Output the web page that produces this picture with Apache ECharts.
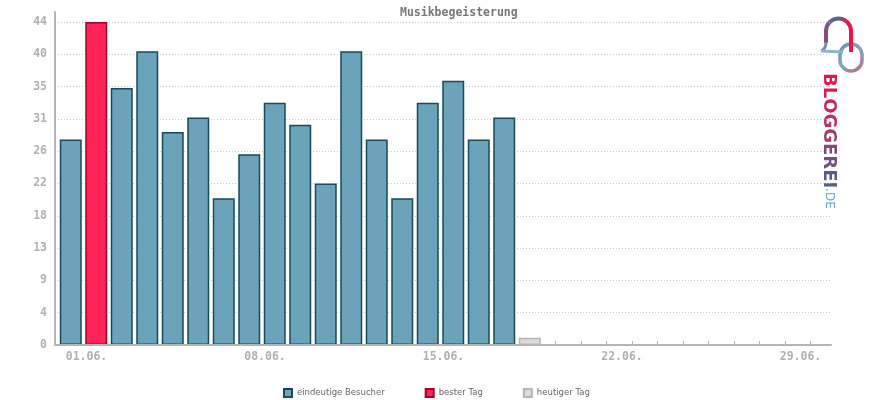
<!DOCTYPE html>
<html>
<head>
<meta charset="utf-8">
<script src="https://cdn.jsdelivr.net/npm/echarts@6/dist/echarts.min.js"></script>
<style>html,body{margin:0;padding:0;background:#fff}#c{width:870px;height:400px}</style>
</head>
<body>
<div id="c"></div>
<script>
const titleText = 'Musikbegeisterung';
const days = ['01.06.','02.06.','03.06.','04.06.','05.06.','06.06.','07.06.','08.06.','09.06.','10.06.',
              '11.06.','12.06.','13.06.','14.06.','15.06.','16.06.','17.06.','18.06.','19.06.','20.06.',
              '21.06.','22.06.','23.06.','24.06.','25.06.','26.06.','27.06.','28.06.','29.06.','30.06.'];
const visitors = [28,44,35,40,29,31,20,26,33,30,22,40,28,20,33,36,28,31]; // 01.06. - 18.06.
const todayValue = 1; // 19.06.
const yTickLabels = ['0','4','9','13','18','22','26','31','35','40','44'];
const legendNames = ['eindeutige Besucher','bester Tag','heutiger Tag'];

const bestIdx = visitors.indexOf(Math.max(...visitors));
const todayIdx = visitors.length;
const blueData = days.map((d,i) => (i < visitors.length && i !== bestIdx) ? visitors[i] : null);
const redData = days.map((d,i) => i === bestIdx ? visitors[i] : null);
const greyData = days.map((d,i) => i === todayIdx ? todayValue : null);

const yMax = 44, yStep = 4.4;
const mono = '"DejaVu Sans Mono", "Liberation Mono", monospace';
const grey = '#b4b4b4';

// logo letters
const logoWord = 'BLOGGEREI'.split('');
const logoColors = ['#e3184f','#d81d55','#c7285c','#b23466','#9a3f70','#844878','#70517f','#605884','#536088'];
const rich = {};
let richText = '';
logoWord.forEach((ch,i) => {
  rich['l'+i] = {fill: logoColors[i], fontSize: 18, fontWeight: 'bold', fontFamily: '"DejaVu Sans", sans-serif'};
  richText += '{l'+i+'|'+ch+'}';
});
rich.de = {fill: '#6aa0c0', fontSize: 12, fontWeight: 'normal', fontFamily: '"DejaVu Sans", sans-serif'};
richText += '{de|.DE}';

const chart = echarts.init(document.getElementById('c'), null, {renderer: 'canvas'});
chart.setOption({
  animation: false,
  backgroundColor: '#fff',
  title: {
    text: titleText, left: 395, top: 2,
    textStyle: {fontFamily: mono, fontSize: 11.5, fontWeight: 'bold', color: '#777'}
  },
  legend: {
    data: legendNames, left: 278, top: 383, itemWidth: 8, itemHeight: 8, itemGap: 40,
    icon: 'rect',
    textStyle: {fontFamily: '"DejaVu Sans", sans-serif', fontSize: 8.5, color: '#666'}
  },
  grid: [
    {left: 58, right: 47, top: 22, bottom: 55},
    {left: 55, right: 39, top: 22, bottom: 55},
    {left: 55, right: 39, top: 12, bottom: 55}
  ],
  xAxis: [
    {type: 'category', gridIndex: 0, data: days, boundaryGap: true,
     axisLine: {show: false},
     axisTick: {show: true, inside: true, length: 4, interval: 0, alignWithLabel: true, lineStyle: {color: grey, width: 1}},
     axisLabel: {interval: 6, margin: 6, align: 'left', padding: [0,0,0,-5], fontFamily: mono, fontSize: 11.5, fontWeight: 'bold', color: '#b0b0b0'},
     splitLine: {show: false}},
    {type: 'value', gridIndex: 1, min: 0, max: 1, z: 5,
     axisLine: {show: true, lineStyle: {color: grey, width: 2}},
     axisTick: {show: false}, axisLabel: {show: false}, splitLine: {show: false}},
    {type: 'value', gridIndex: 2, min: 0, max: 1, show: false}
  ],
  yAxis: [
    {type: 'value', gridIndex: 0, min: 0, max: yMax, interval: yStep, show: false},
    {type: 'value', gridIndex: 1, min: 0, max: yMax, interval: yStep,
     axisLine: {show: false}, axisTick: {show: false},
     axisLabel: {margin: 8, fontFamily: mono, fontSize: 11.5, fontWeight: 'bold', color: '#b0b0b0',
                 formatter: v => yTickLabels[Math.round(v / yStep)]},
     splitLine: {show: true, lineStyle: {color: '#c8c8c8', width: 1, type: [1, 2]}}},
    {type: 'value', gridIndex: 2, min: 0, max: 1, z: 5,
     axisLine: {show: true, lineStyle: {color: grey, width: 2}},
     axisTick: {show: false}, axisLabel: {show: false}, splitLine: {show: false}}
  ],
  series: [
    {name: legendNames[0], type: 'bar', xAxisIndex: 0, yAxisIndex: 0, data: blueData,
     barWidth: 22, barGap: '-100%',
     itemStyle: {color: '#6ba3bb', borderColor: '#184a5c', borderWidth: 1.5}},
    {name: legendNames[1], type: 'bar', xAxisIndex: 0, yAxisIndex: 0, data: redData,
     barWidth: 22, barGap: '-100%',
     itemStyle: {color: '#ff2358', borderColor: '#a0002c', borderWidth: 1.5}},
    {name: legendNames[2], type: 'bar', xAxisIndex: 0, yAxisIndex: 0, data: greyData,
     barWidth: 22, barGap: '-100%',
     itemStyle: {color: '#dcdcdc', borderColor: '#b4b4b4', borderWidth: 1.5}}
  ],
  graphic: [
    {type: 'rect', silent: true,
     shape: {x: 840, y: 44, width: 22, height: 27, r: 11},
     style: {fill: null, lineWidth: 3.5,
       stroke: {type: 'linear', x: 0, y: 0, x2: 1, y2: 1, colorStops: [
         {offset: 0, color: '#5f8fa8'}, {offset: 0.5, color: '#7fa8bc'}, {offset: 1, color: '#c0607e'}]}}},
    {type: 'line', silent: true, shape: {x1: 826, y1: 43, x2: 826, y2: 31},
     style: {stroke: '#8a4a7e', lineWidth: 4}},
    {type: 'arc', silent: true, shape: {cx: 838.5, cy: 31, r: 12.5, startAngle: Math.PI, endAngle: Math.PI * 2, clockwise: true},
     style: {fill: null, lineWidth: 4,
       stroke: {type: 'linear', x: 0, y: 0, x2: 1, y2: 0, colorStops: [
         {offset: 0, color: '#8a4a7e'}, {offset: 0.45, color: '#4f6e8e'}, {offset: 0.8, color: '#e8174f'}, {offset: 1, color: '#e8174f'}]}}},
    {type: 'line', silent: true, shape: {x1: 851, y1: 31, x2: 851, y2: 52},
     style: {stroke: '#e8174f', lineWidth: 4}},
    {type: 'bezierCurve', silent: true, shape: {x1: 826, y1: 42, cpx1: 826, cpy1: 49, x2: 821, y2: 51},
     style: {fill: null, stroke: '#7a8aa8', lineWidth: 3}},
    {type: 'line', silent: true, shape: {x1: 821, y1: 51, x2: 843, y2: 52},
     style: {stroke: '#8ab8c8', lineWidth: 3}},
    {type: 'text', silent: true, x: 829, y: 73, rotation: -Math.PI / 2,
     style: {text: richText, rich: rich, align: 'left', verticalAlign: 'middle'}}
  ]
});
</script>
</body>
</html>
